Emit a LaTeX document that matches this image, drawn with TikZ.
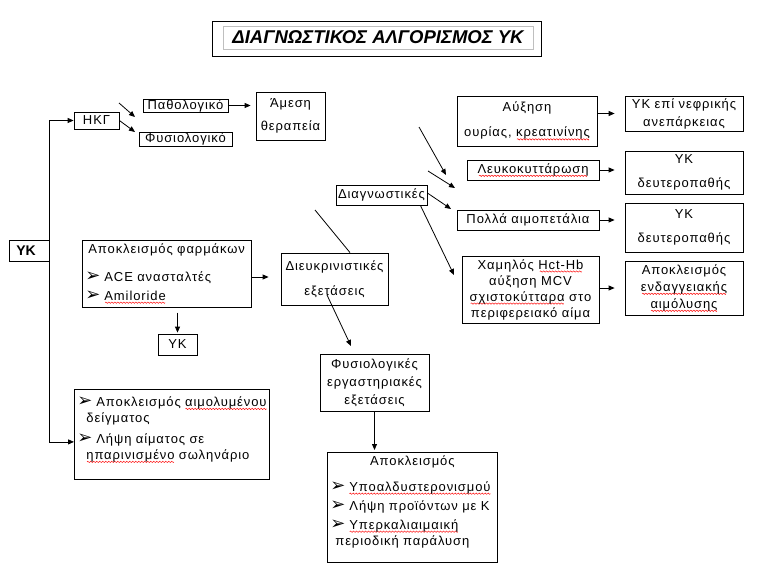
\documentclass[tikz,border=0pt]{standalone}
\usepackage{fontspec}
\setmainfont[LetterSpace=7]{Liberation Sans}
\newfontfamily\titlefont{Liberation Sans}
\newfontfamily\symfont{DejaVu Sans}
\usetikzlibrary{arrows.meta,calc}

% red spell-check squiggle under a word
\newsavebox\wavebox
\AtBeginDocument{\sbox\wavebox{\pgfpicture
  \pgfpathrectangle{\pgfpoint{0pt}{-.7pt}}{\pgfpoint{3pt}{1.4pt}}%
  \pgfusepath{use as bounding box}%
  \pgfsetlinewidth{.45pt}\pgfsetstrokecolor{red}%
  \pgfpathmoveto{\pgfpoint{0pt}{0pt}}%
  \pgfpathsine{\pgfpoint{.75pt}{.7pt}}\pgfpathcosine{\pgfpoint{.75pt}{-.7pt}}%
  \pgfpathsine{\pgfpoint{.75pt}{-.7pt}}\pgfpathcosine{\pgfpoint{.75pt}{.7pt}}%
  \pgfusepath{stroke}\endpgfpicture}}
\newcommand\redwave[1]{\setbox0\hbox{#1}\leavevmode
  \rlap{\lower3.2pt\hbox to\wd0{\cleaders\copy\wavebox\hfil}}\box0\relax}
\newcommand\bul{\makebox[19pt][l]{\symfont\fontsize{18}{18}\selectfont ➢}}

\tikzset{
  box/.style={draw,rectangle,inner sep=2pt,align=center},
  listbox/.style={draw,rectangle,inner sep=3pt,align=left,anchor=north west},
}

\begin{document}
\begin{tikzpicture}
[x=1pt,y=-1pt,line width=.8pt,font=\fontsize{13}{16}\selectfont,
 >={Triangle[length=6pt,width=5pt]}]
\useasboundingbox (0,0) rectangle (759,585);

% title
\node[box,draw=gray!50,minimum width=310pt,minimum height=23pt] (title) at (378,37.5)
  {\titlefont\bfseries\itshape\fontsize{18.5}{20}\selectfont ΔΙΑΓΝΩΣΤΙΚΟΣ ΑΛΓΟΡΙΣΜΟΣ ΥΚ};
\draw ($(title.north west)+(-10,-4)$) rectangle ($(title.south east)+(8,7)$);

% left column
\node[box,minimum width=40pt,minimum height=21pt] (yk) at (29,250.5)
  {\titlefont\bfseries\fontsize{14}{16}\selectfont ΥΚ\hspace*{6pt}};
\node[box,minimum width=45pt,minimum height=17pt] (hkg) at (96.5,120.5) {ΗΚΓ};
\node[box,minimum width=85pt,minimum height=13pt,inner sep=0pt] (patho) at (185.5,105.5) {Παθολογικό};
\node[box,minimum width=93pt,minimum height=14pt,inner sep=0pt] (fysio) at (185.5,139) {Φυσιολογικό};
\node[box,minimum width=69pt,minimum height=48pt] (amesi) at (290.5,116) {Άμεση\\[7pt]θεραπεία};

\node[listbox,text width=163pt,text depth=51pt] (farm) at (82,240)
  {\hspace*{3pt}Αποκλεισμός φαρμάκων\\[12pt]
   \bul ACE ανασταλτές\\[3pt]
   \bul \redwave{Amiloride}};
\node[box,minimum width=39pt,minimum height=21pt] (yk2) at (177.5,344.5) {ΥΚ};
\node[box,minimum width=107pt,minimum height=52pt] (diefk) at (334.5,279)
  {Διευκρινιστικές\\[9pt]εξετάσεις};

\node[listbox,text width=189pt,text depth=70pt] (deigma) at (74,389)
  {\rule{0pt}{14pt}\mbox{\bul Αποκλεισμός \redwave{αιμολυμένου}}\\
   \hspace*{9pt}δείγματος\\[5pt]
   \bul Λήψη αίματος σε\\
   \hspace*{9pt}\redwave{ηπαρινισμένο} σωληνάριο};

\node[box,minimum width=109pt,minimum height=57pt] (fysiol) at (374.5,382.5)
  {Φυσιολογικές\\[2pt]εργαστηριακές\\[2pt]εξετάσεις};
\node[listbox,text width=164pt,text depth=94pt] (apokl) at (327,452)
  {\makebox[\linewidth]{Αποκλεισμός}\\[10pt]
   \bul \redwave{Υποαλδυστερονισμού}\\[3pt]
   \bul Λήψη προϊόντων με Κ\\[3pt]
   \bul \redwave{Υπερκαλιαιμαική}\\
   \hspace*{5pt}περιοδική παράλυση};

% right side
\node[box,minimum width=91pt,minimum height=20pt] (diagn) at (381.5,195) {Διαγνωστικές};
\node[box,minimum width=140pt,minimum height=50pt] (auxisi) at (527,121)
  {Αύξηση\\[9pt]ουρίας, \redwave{κρεατινίνης}};
\node[box,minimum width=132pt,minimum height=20pt] (leuko) at (533,170) {\redwave{Λευκοκυττάρωση}};
\node[box,minimum width=142pt,minimum height=20pt] (polla) at (528,220) {Πολλά αιμοπετάλια};
\node[box,minimum width=137pt,minimum height=67pt] (xamil) at (530.5,289.5)
  {Χαμηλός \redwave{Hct-Hb}\\αύξηση MCV\\\redwave{σχιστοκύτταρα} στο\\περιφερειακό αίμα};

\node[box,minimum width=118pt,minimum height=35pt] (nefr) at (684,113.5) {ΥΚ επί νεφρικής\\[2pt]ανεπάρκειας};
\node[box,minimum width=118pt,minimum height=43pt] (deut1) at (684,172.5) {ΥΚ\\[8pt]δευτεροπαθής};
\node[box,minimum width=118pt,minimum height=49pt] (deut2) at (684,227.5) {ΥΚ\\[8pt]δευτεροπαθής};
\node[box,minimum width=118pt,minimum height=54pt] (endag) at (684,288)
  {Αποκλεισμός\\[1pt]\redwave{ενδαγγειακής}\\[1pt]\redwave{αιμόλυσης}};

% free ends of the loose arrows
\coordinate (h1) at (119,103);
\coordinate (h1t) at (135,117);
\coordinate (h2t) at (135,132);
\coordinate (d0) at (315,210);
\coordinate (d1) at (327,295);
\coordinate (d1t) at (351,346);
\coordinate (g1) at (419,127);
\coordinate (g1t) at (446,175);
\coordinate (g2) at (428,171);
\coordinate (g2t) at (455,188);
\coordinate (g3t) at (451,209);
\coordinate (g4t) at (454,275);

% connectors
\draw[->] (yk.north east) |- (hkg.west);
\draw[->] (yk.south east) |- ($(deigma.west)+(0,7.5)$);
\draw[->] (h1) -- (h1t);
\draw[->] (hkg.east) -- (h2t);
\draw[->,shorten >=5pt] (patho.east) -- (patho -| amesi.west);

\draw[->,shorten >=12pt] (farm.east |- 0,277) -- (diefk.west |- 0,277);
\draw[->,shorten <=5pt,shorten >=1pt] (yk2.north |- farm.south) -- (yk2.north);
\draw (d0) -- ($(diefk.north)+(15.5,0)$);
\draw[->] (d1) -- (d1t);
\draw[->,shorten >=2pt] (fysiol.south) -- (fysiol.south |- apokl.north);

\draw[->] (g1) -- (g1t);
\draw[->] (g2) -- (g2t);
\draw[->] ($(diagn.east)+(0,-2)$) -- (g3t);
\draw[->] ($(diagn.south east)+(-7,0)$) -- (g4t);

\draw[->,shorten >=10pt] (auxisi.east |- nefr.west) -- (nefr.west);
\draw[->,shorten >=10pt] (leuko.east) -- (leuko -| deut1.west);
\draw[->,shorten >=10pt] (polla.east) -- (polla -| deut2.west);
\draw[->,shorten >=10pt] (xamil.east |- endag.west) -- (endag.west);
\end{tikzpicture}
\end{document}
